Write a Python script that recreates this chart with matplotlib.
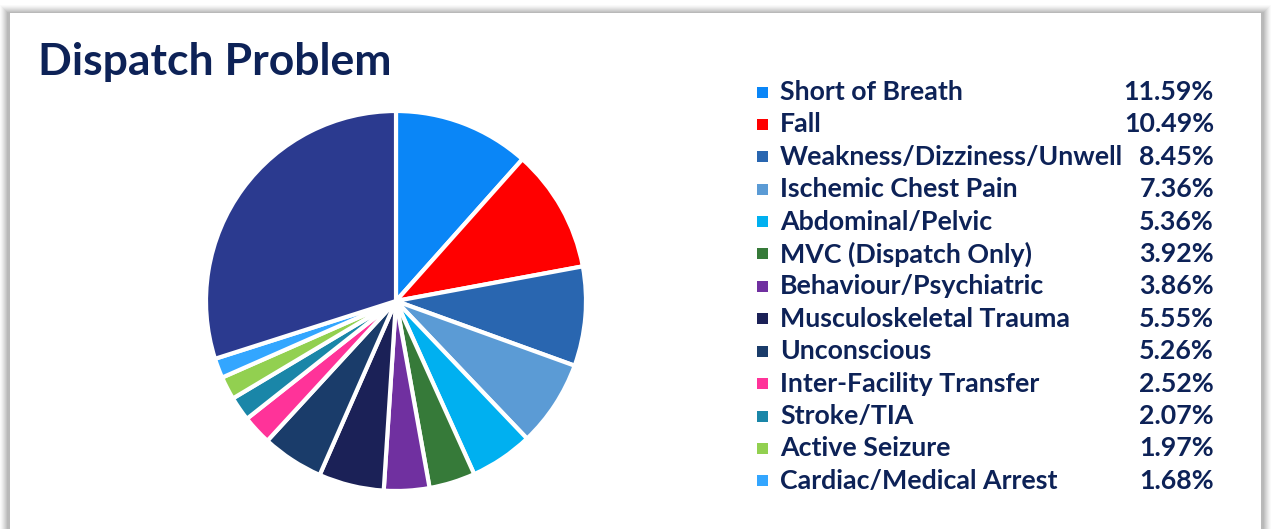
import numpy as np
import matplotlib.pyplot as plt
from matplotlib.patches import Rectangle

# data
categories = ['Short of Breath', 'Fall', 'Weakness/Dizziness/Unwell', 'Ischemic Chest Pain',
              'Abdominal/Pelvic', 'MVC (Dispatch Only)', 'Behaviour/Psychiatric',
              'Musculoskeletal Trauma', 'Unconscious', 'Inter-Facility Transfer',
              'Stroke/TIA', 'Active Seizure', 'Cardiac/Medical Arrest']
percents = [11.59, 10.49, 8.45, 7.36, 5.36, 3.92, 3.86, 5.55, 5.26, 2.52, 2.07, 1.97, 1.68]
other = 100 - sum(percents)  # unlabelled remainder slice
colors = ['#0A86F7', '#FF0000', '#2966B0', '#5B9BD5', '#00B0F0', '#367A39', '#7030A0',
          '#1B2157', '#1A3C6A', '#FF3399', '#1A86A8', '#92D050', '#33A6FF']
other_color = '#2B3A8F'

navy = '#0D2257'
font = 'Lato'
W, H = 1273, 529
fig = plt.figure(figsize=(W / 100, H / 100), dpi=100)
fig.patch.set_facecolor('white')

# card with soft shadow
for i, a in enumerate(np.linspace(0.03, 0.12, 8)):
    d = 9 - i
    fig.patches.append(Rectangle(((9 - d) / W, -0.1), (1253 + 2 * d) / W, (515 + d) / H + 0.1,
                                 transform=fig.transFigure, facecolor='#707070', alpha=a,
                                 edgecolor='none', zorder=0))
fig.patches.append(Rectangle((10 / W, -0.1), 1251 / W, 516 / H + 0.1, transform=fig.transFigure,
                             facecolor='white', edgecolor='none', zorder=1))

fig.text(38 / W, 1 - 62 / H, 'Dispatch Problem', fontsize=32, fontweight='bold',
         color=navy, family=font, va='center', ha='left', zorder=3)

# pie
r = 190
cx, cy = 396, 301
ax = fig.add_axes([(cx - r) / W, 1 - (cy + r) / H, 2 * r / W, 2 * r / H])
ax.set_zorder(2)
ax.patch.set_alpha(0)
ax.pie(percents + [other], colors=colors + [other_color], startangle=90, counterclock=False,
       wedgeprops=dict(edgecolor='white', linewidth=3))
ax.set_xlim(-1, 1)
ax.set_ylim(-1, 1)
ax.set_aspect('equal')
ax.axis('off')

# legend
y0, dy = 92, 32.4
for i, (name, p, c) in enumerate(zip(categories, percents, colors)):
    y = 1 - (y0 + i * dy) / H
    fig.patches.append(Rectangle((757 / W, y - 5.5 / H), 11 / W, 11 / H, transform=fig.transFigure,
                                 facecolor=c, edgecolor='none', zorder=3))
    fig.text(780 / W, y, name, fontsize=19.3, fontweight='bold', color=navy,
             family=font, va='center', ha='left', zorder=3)
    fig.text(1214 / W, y, '{:.2f}%'.format(p), fontsize=19.3, fontweight='bold', color=navy,
             family=font, va='center', ha='right', zorder=3)

fig.savefig('out.png', dpi=100)
